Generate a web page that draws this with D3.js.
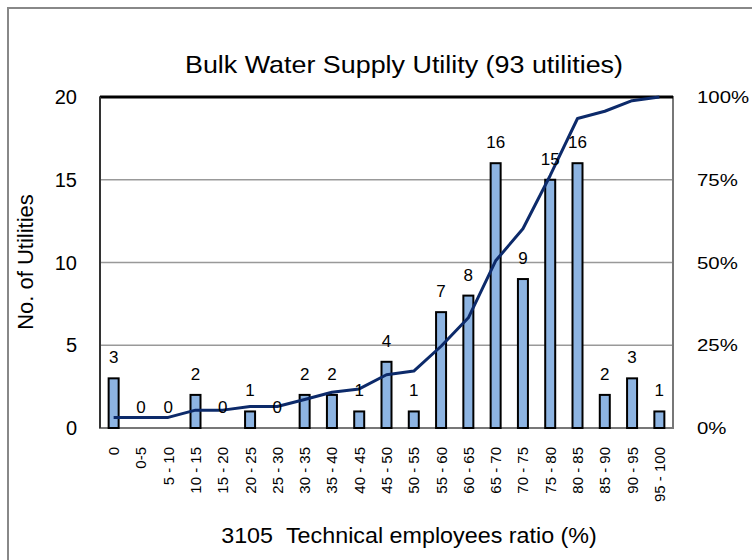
<!DOCTYPE html>
<html>
<head>
<meta charset="utf-8">
<script src="https://cdn.jsdelivr.net/npm/d3@7"></script>
<style>
  body { margin: 0; background: #fff; }
  svg { font-family: "Liberation Sans", Arial, sans-serif; }
</style>
</head>
<body>
<svg width="752" height="560"></svg>
<script>
var categories = ["0", "0-5", "5-10", "10-15", "15-20", "20-25", "25-30", "30-35", "35-40", "40-45",
  "45-50", "50-55", "55-60", "60-65", "65-70", "70-75", "75-80", "80-85", "85-90", "90-95", "95-100"];
var counts = [3, 0, 0, 2, 0, 1, 0, 2, 2, 1, 4, 1, 7, 8, 16, 9, 15, 16, 2, 3, 1];
var cumulative = [3.2, 3.2, 3.2, 5.4, 5.4, 6.5, 6.5, 8.6, 10.8, 11.8, 16.1, 17.2, 24.7, 33.3,
  50.5, 60.2, 76.3, 93.5, 95.7, 98.9, 100];
var leftTicks = [0, 5, 10, 15, 20];
var rightTicks = [0, 25, 50, 75, 100];

var svg = d3.select("svg");

// outer frame
svg.append("rect")
    .attr("x", 8).attr("y", 8)
    .attr("width", 760).attr("height", 570)
    .attr("fill", "none")
    .attr("stroke", "#888")
    .attr("stroke-width", 2);

var plotLeft = 100, plotRight = 673, plotTop = 97, plotBottom = 428;

var x = d3.scaleBand().domain(categories).range([plotLeft, plotRight]);
var y = d3.scaleLinear().domain([0, 20]).range([plotBottom, plotTop]);
var y2 = d3.scaleLinear().domain([0, 100]).range([plotBottom, plotTop]);

function cx(i) { return x(categories[i]) + x.bandwidth() / 2; }

// gridlines
svg.append("g")
  .selectAll("line")
  .data(leftTicks.slice(1, 4))
  .enter().append("line")
    .attr("x1", plotLeft).attr("x2", plotRight)
    .attr("y1", function(d) { return y(d); })
    .attr("y2", function(d) { return y(d); })
    .attr("stroke", "#999")
    .attr("stroke-width", 1.5);

// plot border
svg.append("rect")
    .attr("x", plotLeft).attr("y", plotTop)
    .attr("width", plotRight - plotLeft).attr("height", plotBottom - plotTop)
    .attr("fill", "none")
    .attr("stroke", "#777")
    .attr("stroke-width", 2);
svg.append("line")
    .attr("x1", plotLeft).attr("x2", plotRight)
    .attr("y1", plotTop).attr("y2", plotTop)
    .attr("stroke", "#000")
    .attr("stroke-width", 3);
svg.append("line")
    .attr("x1", plotLeft).attr("x2", plotLeft)
    .attr("y1", plotTop).attr("y2", plotBottom)
    .attr("stroke", "#333")
    .attr("stroke-width", 2);

// bars
var barW = 10;
svg.append("g")
  .selectAll("rect")
  .data(counts)
  .enter().append("rect")
    .attr("x", function(d, i) { return cx(i) - barW / 2; })
    .attr("y", function(d) { return y(d); })
    .attr("width", barW)
    .attr("height", function(d) { return plotBottom - y(d); })
    .attr("fill", "#8db4e2")
    .attr("stroke", "#000")
    .attr("stroke-width", 2);

// cumulative line
var line = d3.line()
    .x(function(d, i) { return cx(i); })
    .y(function(d) { return y2(d); });
svg.append("path")
    .datum(cumulative)
    .attr("d", line)
    .attr("fill", "none")
    .attr("stroke", "#0c2a6a")
    .attr("stroke-width", 3)
    .attr("stroke-linejoin", "round");

// bar labels
svg.append("g")
  .selectAll("text")
  .data(counts)
  .enter().append("text")
    .attr("x", function(d, i) { return cx(i); })
    .attr("y", function(d) { return y(d) - 15; })
    .attr("text-anchor", "middle")
    .attr("font-size", 17)
    .text(function(d) { return d; });

// left axis labels
svg.append("g")
  .selectAll("text")
  .data(leftTicks)
  .enter().append("text")
    .attr("x", 77)
    .attr("y", function(d) { return y(d) + 7; })
    .attr("text-anchor", "end")
    .attr("font-size", 20)
    .text(function(d) { return d; });

// right axis labels
svg.append("g")
  .selectAll("text")
  .data(rightTicks)
  .enter().append("text")
    .attr("transform", function(d) {
      return "translate(697," + (y2(d) + 6) + ") scale(1.2,1)";
    })
    .attr("text-anchor", "start")
    .attr("font-size", 17)
    .text(function(d) { return d + "%"; });

// category labels
svg.append("g")
  .selectAll("text")
  .data(categories)
  .enter().append("text")
    .attr("transform", function(d, i) {
      return "translate(" + (cx(i) + 5.5) + ",447) rotate(-90)";
    })
    .attr("text-anchor", "end")
    .attr("font-size", 15)
    .text(function(d) { return d == "0-5" ? d : d.replace("-", " - "); });

// titles
svg.append("text")
    .attr("transform", "translate(404,73) scale(1.12,1)")
    .attr("text-anchor", "middle")
    .attr("font-size", 24)
    .text("Bulk Water Supply Utility (93 utilities)");

svg.append("text")
    .attr("transform", "translate(409,543) scale(1.06,1)")
    .attr("text-anchor", "middle")
    .attr("font-size", 22)
    .attr("xml:space", "preserve")
    .text("3105\u00a0\u00a0Technical employees ratio (%)");

svg.append("text")
    .attr("transform", "translate(33,262) rotate(-90)")
    .attr("text-anchor", "middle")
    .attr("font-size", 22)
    .text("No. of Utilities");
</script>
</body>
</html>
